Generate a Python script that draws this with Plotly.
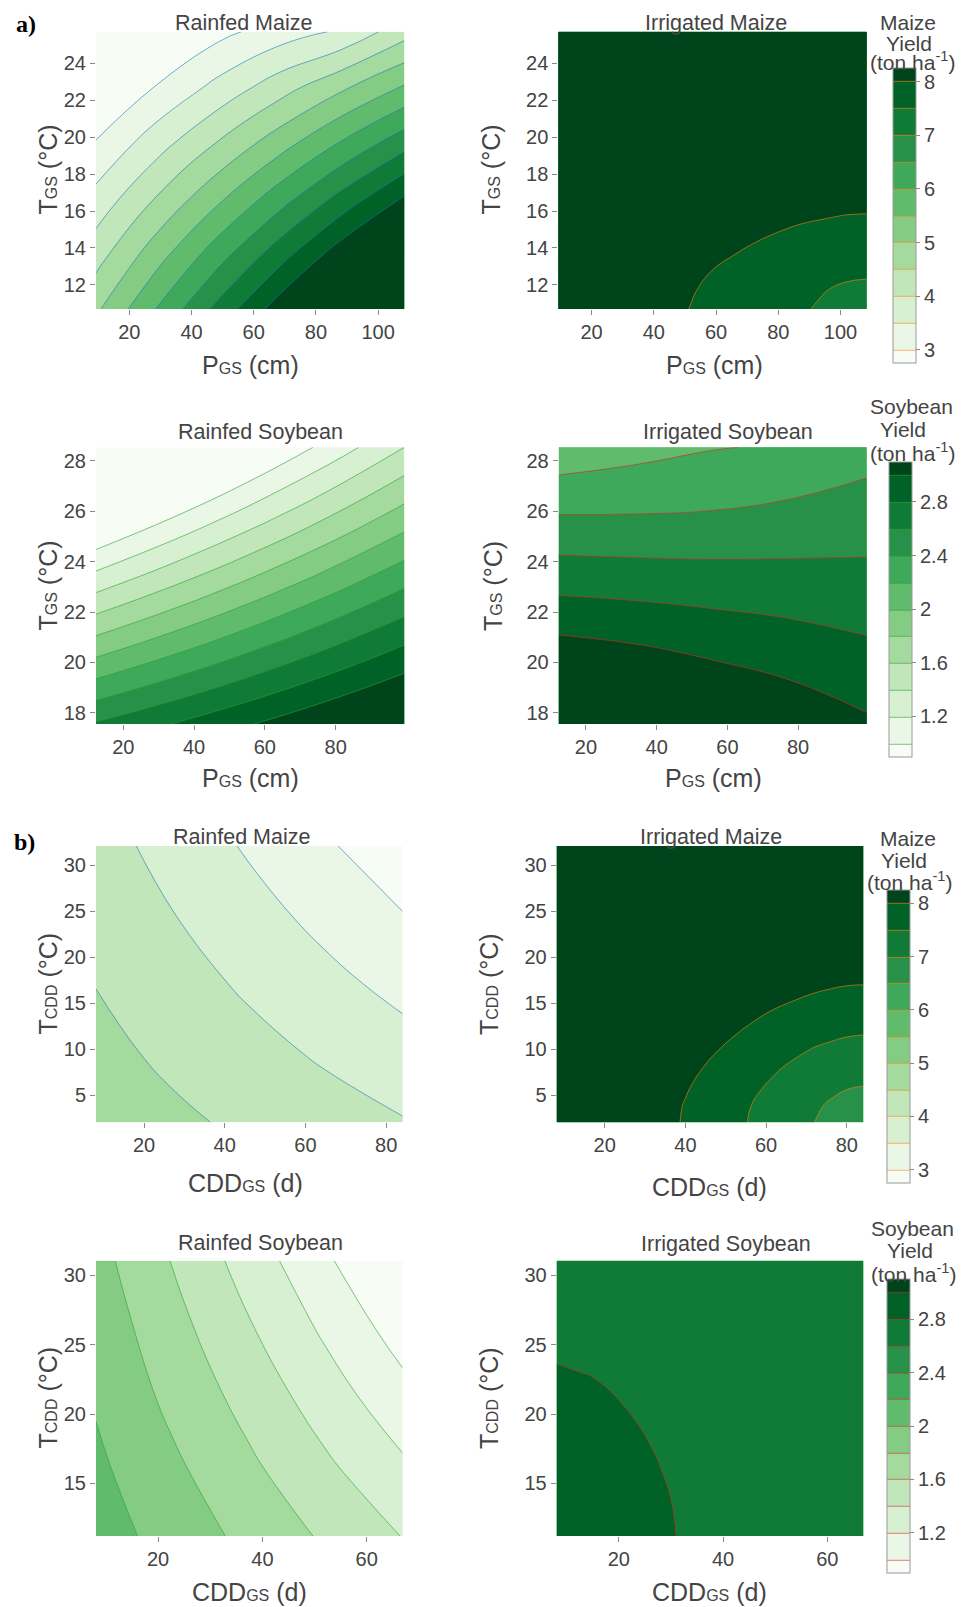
import plotly.graph_objects as go

W, H = 966, 1607

# ---------------- DATA ----------------
# colour levels
maize_levels = dict(start=3.0, end=8.0, size=0.5)
soy_levels = dict(start=1.0, end=3.0, size=0.2)
maize_ticks = [3, 4, 5, 6, 7, 8]
soy_ticks = [1.2, 1.6, 2.0, 2.4, 2.8]

# a) growing-season precipitation (cm) vs growing-season temperature (deg C)
a_maize_x_rain = [9.3, 29.12, 48.94, 68.76, 88.58, 108.4]
a_maize_y_rain = [10.7, 13.7, 16.7, 19.7, 22.7, 25.7]
a_maize_z_rain = [
    [4.91, 6.04, 7.17, 8.29, 9.42, 10.55],
    [4.28, 5.29, 6.29, 7.29, 8.30, 9.30],
    [3.66, 4.54, 5.41, 6.29, 7.17, 8.05],
    [3.03, 3.79, 4.54, 5.29, 6.05, 6.80],
    [2.41, 3.04, 3.66, 4.29, 4.92, 5.55],
    [1.78, 2.33, 2.86, 3.25, 3.58, 4.30],
]

a_maize_x_irr = [9.3, 35, 45, 52, 59, 66, 73, 80, 87, 94, 101, 108.4]
a_maize_y_irr = [10.7, 11.7, 12.7, 13.7, 14.7, 15.7, 16.7, 18, 21, 25.7]
a_maize_z_irr = [
    [8.20, 8.19, 8.08, 7.99, 7.91, 7.82, 7.73, 7.64, 7.55, 7.45, 7.34, 7.20],
    [8.20, 8.20, 8.10, 8.02, 7.94, 7.85, 7.77, 7.68, 7.60, 7.52, 7.44, 7.40],
    [8.20, 8.20, 8.15, 8.07, 7.99, 7.92, 7.84, 7.77, 7.70, 7.64, 7.58, 7.56],
    [8.20, 8.20, 8.20, 8.14, 8.07, 8.005, 7.93, 7.87, 7.81, 7.76, 7.72, 7.70],
    [8.20, 8.20, 8.20, 8.20, 8.16, 8.10, 8.04, 7.98, 7.93, 7.89, 7.86, 7.84],
    [8.20, 8.20, 8.20, 8.20, 8.20, 8.20, 8.14, 8.10, 8.05, 8.02, 7.99, 7.98],
    [8.20, 8.20, 8.20, 8.20, 8.20, 8.20, 8.20, 8.20, 8.17, 8.14, 8.12, 8.11],
    [8.20, 8.20, 8.20, 8.20, 8.20, 8.20, 8.20, 8.20, 8.20, 8.20, 8.20, 8.20],
    [8.20, 8.20, 8.20, 8.20, 8.20, 8.20, 8.20, 8.20, 8.20, 8.20, 8.20, 8.20],
    [8.20, 8.20, 8.20, 8.20, 8.20, 8.20, 8.20, 8.20, 8.20, 8.20, 8.20, 8.20],
]

a_soy_x = [12.3, 34.08, 55.85, 77.63, 99.4]
a_soy_y = [17.56, 20.3, 23.05, 25.79, 28.53]
a_soy_z_rain = [
    [2.62, 2.805, 2.99, 3.175, 3.36],
    [1.9775, 2.2006, 2.4238, 2.6469, 2.87],
    [1.335, 1.5963, 1.8575, 2.1188, 2.38],
    [0.6925, 0.9919, 1.2913, 1.5906, 1.89],
    [0.05, 0.3875, 0.725, 1.0625, 1.40],
]
a_soy_z_irr = [
    [3.44, 3.37, 3.25, 3.14, 3.03],
    [3.10, 3.05, 2.98, 2.92, 2.85],
    [2.75, 2.73, 2.71, 2.69, 2.67],
    [2.41, 2.41, 2.42, 2.46, 2.50],
    [2.06, 2.13, 2.19, 2.22, 2.32],
]

# b) growing-season consecutive dry days (d) vs temperature during CDD (deg C)
b_maize_x_rain = [8.1, 27.1, 46.1, 65.1, 84.1]
b_maize_y_rain = [2.07, 9.57, 17.07, 24.57, 32.07]
b_maize_z_rain = [
    [4.78, 4.5925, 4.405, 4.2175, 4.03],
    [4.635, 4.3994, 4.1638, 3.9281, 3.6925],
    [4.49, 4.2063, 3.9225, 3.6388, 3.355],
    [4.345, 4.0131, 3.6813, 3.3494, 3.0175],
    [4.20, 3.82, 3.44, 3.06, 2.68],
]

b_maize_x_irr = [8.1, 30, 40, 48, 55, 61, 67, 72, 76, 80, 84.1]
b_maize_y_irr = [2.07, 4, 6, 8, 10, 12, 14, 16, 18, 24, 32.07]
b_maize_z_irr = [
    [8.30, 8.26, 7.96, 7.72, 7.51, 7.33, 7.15, 7.00, 6.88, 6.76, 6.64],
    [8.30, 8.28, 7.98, 7.75, 7.54, 7.37, 7.20, 7.06, 6.96, 6.87, 6.82],
    [8.30, 8.30, 8.04, 7.81, 7.62, 7.46, 7.30, 7.18, 7.10, 7.03, 7.00],
    [8.30, 8.30, 8.12, 7.90, 7.72, 7.57, 7.43, 7.33, 7.26, 7.20, 7.18],
    [8.30, 8.30, 8.22, 8.01, 7.84, 7.70, 7.58, 7.48, 7.43, 7.38, 7.36],
    [8.30, 8.30, 8.30, 8.13, 7.97, 7.85, 7.73, 7.65, 7.60, 7.56, 7.54],
    [8.30, 8.30, 8.30, 8.27, 8.11, 7.99, 7.89, 7.82, 7.77, 7.74, 7.72],
    [8.30, 8.30, 8.30, 8.30, 8.27, 8.16, 8.06, 7.99, 7.95, 7.92, 7.91],
    [8.30, 8.30, 8.30, 8.30, 8.30, 8.30, 8.23, 8.17, 8.13, 8.10, 8.09],
    [8.30, 8.30, 8.30, 8.30, 8.30, 8.30, 8.30, 8.30, 8.30, 8.30, 8.30],
    [8.30, 8.30, 8.30, 8.30, 8.30, 8.30, 8.30, 8.30, 8.30, 8.30, 8.30],
]

b_soy_x_rain = [8.1, 22.8, 37.5, 52.2, 66.9]
b_soy_y_rain = [11.2, 16.17, 21.13, 26.1, 31.06]
b_soy_z_rain = [
    [2.095, 1.92, 1.745, 1.57, 1.394],
    [2.039, 1.837, 1.636, 1.434, 1.233],
    [1.98, 1.75, 1.53, 1.30, 1.07],
    [1.926, 1.672, 1.419, 1.165, 0.911],
    [1.87, 1.59, 1.31, 1.03, 0.75],
]

b_soy_x_irr = [8.1, 15, 22, 28, 34, 45, 66.9]
b_soy_y_irr = [11.2, 14, 17, 20, 23, 26, 31.06]
b_soy_z_irr = [
    [2.920, 2.884, 2.847, 2.816, 2.784, 2.727, 2.68],
    [2.893, 2.872, 2.839, 2.810, 2.779, 2.723, 2.68],
    [2.864, 2.849, 2.822, 2.796, 2.767, 2.713, 2.68],
    [2.835, 2.824, 2.801, 2.777, 2.751, 2.700, 2.68],
    [2.806, 2.797, 2.777, 2.756, 2.732, 2.684, 2.68],
    [2.777, 2.769, 2.752, 2.732, 2.710, 2.680, 2.68],
    [2.728, 2.721, 2.707, 2.690, 2.680, 2.680, 2.68],
]

titles = ["Rainfed Maize", "Irrigated Maize", "Rainfed Soybean", "Irrigated Soybean",
          "Rainfed Maize", "Irrigated Maize", "Rainfed Soybean", "Irrigated Soybean"]

# ---------------- STYLE / LAYOUT ----------------
FONT = "Liberation Sans, Arial, sans-serif"
TXT = "#444444"
greens = [[0.0, "#f7fcf5"], [0.125, "#e5f5e0"], [0.25, "#c7e9c0"], [0.375, "#a1d99b"],
          [0.5, "#74c476"], [0.625, "#41ab5d"], [0.75, "#238b45"], [0.875, "#006d2c"],
          [1.0, "#00441b"]]
line_cols = {"rain_maize": "rgb(31,119,180)", "irr_maize": "rgb(255,127,14)",
             "rain_soy": "rgb(44,160,44)", "irr_soy": "rgb(214,39,40)"}

def fx(p):
    return p / W

def fy(p):
    return 1 - p / H

# panel rectangles in pixels: (left, right, top, bottom)
rects = [
    (96, 404.3, 31.7, 309), (558.3, 866.7, 31.7, 309),
    (96, 404.3, 447.3, 724), (558.7, 866.7, 447.3, 724),
    (96, 402.7, 846, 1122.3), (556.7, 863.3, 846, 1122.3),
    (96, 402.7, 1260.7, 1536), (556.7, 863.3, 1260.7, 1536),
]

panels = [
    (a_maize_x_rain, a_maize_y_rain, a_maize_z_rain, "maize", "rain_maize"),
    (a_maize_x_irr, a_maize_y_irr, a_maize_z_irr, "maize", "irr_maize"),
    (a_soy_x, a_soy_y, a_soy_z_rain, "soy", "rain_soy"),
    (a_soy_x, a_soy_y, a_soy_z_irr, "soy", "irr_soy"),
    (b_maize_x_rain, b_maize_y_rain, b_maize_z_rain, "maize", "rain_maize"),
    (b_maize_x_irr, b_maize_y_irr, b_maize_z_irr, "maize", "irr_maize"),
    (b_soy_x_rain, b_soy_y_rain, b_soy_z_rain, "soy", "rain_soy"),
    (b_soy_x_irr, b_soy_y_irr, b_soy_z_irr, "soy", "irr_soy"),
]

# which panel owns a colour bar: index -> (left px, top px, length px)
cbars = {1: (892.7, 68.3, 295), 2: (889.3, 461.7, 295),
         5: (886.7, 890, 293.3), 7: (886.7, 1279, 293.7)}

x_dticks = [20, 20, 20, 20, 20, 20, 20, 20]
y_tick0 = [12, 12, 18, 18, 5, 5, 15, 15]
y_dtick = [2, 2, 2, 2, 5, 5, 5, 5]

fig = go.Figure()
layout = dict(width=W, height=H, margin=dict(l=0, r=0, t=0, b=0),
              paper_bgcolor="white", plot_bgcolor="white",
              font=dict(family=FONT, color=TXT, size=20), showlegend=False)

for i, (xs, ys, zs, crop, lc) in enumerate(panels):
    n = i + 1
    lv = maize_levels if crop == "maize" else soy_levels
    zmin = lv["start"] - lv["size"] / 2
    zmax = lv["end"] + lv["size"] / 2
    tr = dict(
        x=xs, y=ys, z=zs, xaxis="x%d" % n, yaxis="y%d" % n,
        colorscale=greens, zauto=False, zmin=zmin, zmax=zmax,
        autocontour=False, contours=dict(coloring="fill", **lv),
        line=dict(color=line_cols[lc], width=0.6, smoothing=1.3),
        showscale=i in cbars, hoverinfo="skip",
    )
    if i in cbars:
        cx, ctop, clen = cbars[i]
        tv = maize_ticks if crop == "maize" else soy_ticks
        tr["colorbar"] = dict(
            x=fx(cx), xanchor="left", xpad=0, ypad=0,
            y=fy(ctop), yanchor="top", len=clen, lenmode="pixels",
            thickness=23, thicknessmode="pixels",
            outlinewidth=1, outlinecolor="#9a9a9a",
            tickmode="array", tickvals=tv, ticktext=[("%g" % t) for t in tv],
            ticks="outside", ticklen=4, tickcolor="#888888",
            tickfont=dict(size=20, color=TXT, family=FONT),
        )
    fig.add_trace(go.Contour(**tr))

    l, r, t, b = rects[i]
    ax = dict(domain=[fx(l), fx(r)], anchor="y%d" % n, range=[xs[0], xs[-1]],
              showgrid=False, zeroline=False, showline=False,
              ticks="outside", ticklen=5, tickwidth=1, tickcolor="#888888",
              tick0=20, dtick=x_dticks[i], tickfont=dict(size=20, color=TXT))
    ay = dict(domain=[fy(b), fy(t)], anchor="x%d" % n, range=[ys[0], ys[-1]],
              showgrid=False, zeroline=False, showline=False,
              ticks="outside", ticklen=5, tickwidth=1, tickcolor="#888888",
              tick0=y_tick0[i], dtick=y_dtick[i], tickfont=dict(size=20, color=TXT))
    layout["xaxis" if n == 1 else "xaxis%d" % n] = ax
    layout["yaxis" if n == 1 else "yaxis%d" % n] = ay

fig.update_layout(**layout)

ann = []

def add_text(text, x, y, size, rot=0, color=TXT, family=FONT):
    ann.append(dict(text=text, x=fx(x), y=fy(y), xref="paper", yref="paper",
                    xanchor="center", yanchor="middle", showarrow=False,
                    textangle=rot, font=dict(size=size, color=color, family=family)))

# subplot titles
title_pos = [(243.7, 22.5), (715.7, 22.5), (260.7, 431.7), (728.3, 431.7),
             (241.7, 836.7), (711.2, 837.3), (260, 1243.3), (725.5, 1244)]
for tt, (x, y) in zip(titles, title_pos):
    add_text(tt, x, y, 21.5)

# axis titles
sub = "<span style='font-size:16px'>%s</span>"
xt_P = "P" + sub % "GS" + " (cm)"
xt_C = "CDD" + sub % "GS" + " (d)"
yt_T = "T" + sub % "GS" + " (°C)"
yt_C = "T" + sub % "CDD" + " (°C)"
xt_pos = [(250, 365, xt_P), (714.5, 365, xt_P), (250.8, 778, xt_P), (713.3, 778.3, xt_P),
          (245.8, 1183.3, xt_C), (709, 1186.7, xt_C), (249, 1591.7, xt_C), (709, 1591.7, xt_C)]
for x, y, t in xt_pos:
    add_text(t, x, y, 25)
yt_pos = [(47.5, 170, yt_T), (490.5, 170, yt_T), (47.5, 586, yt_T), (493, 586, yt_T),
          (47.5, 984, yt_C), (489, 984, yt_C), (47.5, 1398, yt_C), (489, 1398, yt_C)]
for x, y, t in yt_pos:
    add_text(t, x, y, 25, rot=-90)

# colour bar titles
cb_titles = [
    [("Maize", 907.7, 22.5), ("Yield", 909.3, 43.3), ("(ton ha<sup>-1</sup>)", 912.7, 61)],
    [("Soybean", 911, 406), ("Yield", 903.3, 430), ("(ton ha<sup>-1</sup>)", 912.5, 452)],
    [("Maize", 908, 838.3), ("Yield", 903.7, 860.8), ("(ton ha<sup>-1</sup>)", 909.3, 880.8)],
    [("Soybean", 912, 1228.3), ("Yield", 910.3, 1250), ("(ton ha<sup>-1</sup>)", 913, 1272.5)],
]
for grp in cb_titles:
    for t, x, y in grp:
        add_text(t, x, y, 21)

# panel letters
add_text("<b>a)</b>", 25.5, 24, 24, color="black", family="Liberation Serif, Times New Roman, serif")
add_text("<b>b)</b>", 24.7, 842, 24, color="black", family="Liberation Serif, Times New Roman, serif")

fig.update_layout(annotations=ann)
fig.write_html("out.html", config={"displayModeBar": False},
               post_script="document.body.style.margin='0';document.body.style.overflow='hidden';")
